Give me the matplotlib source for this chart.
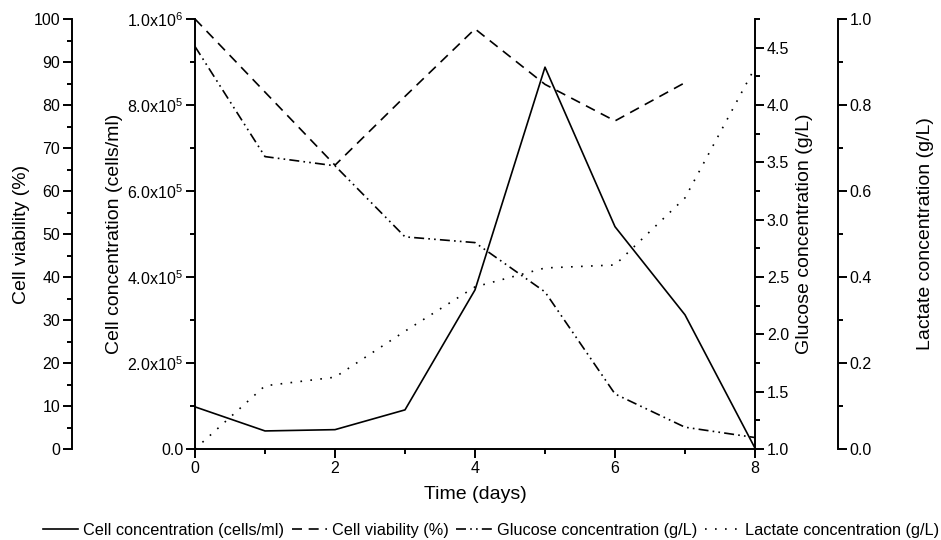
import matplotlib
matplotlib.use("Agg")
import matplotlib.pyplot as plt
from matplotlib.ticker import MultipleLocator, FixedLocator, FixedFormatter, FormatStrFormatter
from matplotlib.lines import Line2D

plt.rcParams['font.family'] = ['Liberation Sans', 'DejaVu Sans']
plt.rcParams['mathtext.fontset'] = 'custom'
plt.rcParams['mathtext.rm'] = 'Liberation Sans'
plt.rcParams['mathtext.it'] = 'Liberation Sans'

# data
days = [0, 1, 2, 3, 4, 5, 6, 7, 8]
cell_conc = [9.8e4, 4.2e4, 4.5e4, 9.1e4, 3.7e5, 8.88e5, 5.17e5, 3.12e5, 2e3]
via_days = [0, 1, 2, 3, 4, 5, 6, 7]
viability = [100, 83, 66, 82, 97.7, 84.8, 76.3, 85.2]
glucose = [4.51, 3.55, 3.47, 2.85, 2.80, 2.37, 1.48, 1.19, 1.10]
lactate = [0.0, 0.147, 0.167, 0.274, 0.377, 0.421, 0.428, 0.584, 0.887]

conc_ticks = [0, 2e5, 4e5, 6e5, 8e5, 1e6]
conc_labels = ['0.0', r'2.0x10$^{5}$', r'4.0x10$^{5}$', r'6.0x10$^{5}$',
               r'8.0x10$^{5}$', r'1.0x10$^{6}$']

names = ['Cell concentration (cells/ml)', 'Cell viability (%)',
         'Glucose concentration (g/L)', 'Lactate concentration (g/L)']

LW = 1.2
SPW = 1.4
TICKFS = 11.5
LABFS = 14

fig = plt.figure(figsize=(9.41, 5.40), dpi=100)
W, H = 941, 540
x0, x1, y0, y1 = 195, 755, 19, 449
ax = fig.add_axes([x0 / W, 1 - y1 / H, (x1 - x0) / W, (y1 - y0) / H])
aw = x1 - x0
ah = y1 - y0

def style_ticks(a, axis='y'):
    a.tick_params(axis=axis, which='major', direction='out', length=6.5, width=SPW, labelsize=TICKFS, pad=2)
    a.tick_params(axis=axis, which='minor', direction='out', length=3.5, width=SPW)

# host: cell concentration
ax.plot(days, cell_conc, color='black', lw=LW, linestyle='-')
ax.set_xlim(0, 8)
ax.set_ylim(0, 1e6)
ax.xaxis.set_major_locator(MultipleLocator(2))
ax.xaxis.set_minor_locator(MultipleLocator(1))
ax.yaxis.set_major_locator(FixedLocator(conc_ticks))
ax.yaxis.set_major_formatter(FixedFormatter(conc_labels))
ax.yaxis.set_minor_locator(MultipleLocator(1e5))
for s in ['top', 'right']:
    ax.spines[s].set_visible(False)
for s in ['left', 'bottom']:
    ax.spines[s].set_linewidth(SPW)
style_ticks(ax, 'both')
ax.set_xlabel('Time (days)', fontsize=LABFS)
ax.xaxis.set_label_coords(0.5, -(486 - y1) / ah)
ax.set_ylabel('Cell concentration (cells/ml)', fontsize=LABFS)
ax.yaxis.set_label_coords(-(x0 - 123) / aw, 0.5)

# viability axis (outer left)
axv = ax.twinx()
axv.plot(via_days, viability, color='black', lw=LW, linestyle=(0, (6, 4)))
axv.set_ylim(0, 100)
axv.yaxis.tick_left()
axv.yaxis.set_label_position('left')
axv.yaxis.set_major_locator(MultipleLocator(10))
axv.yaxis.set_minor_locator(MultipleLocator(5))
for s in ['top', 'right', 'bottom']:
    axv.spines[s].set_visible(False)
axv.spines['left'].set_position(('axes', -(x0 - 72) / aw))
axv.spines['left'].set_linewidth(SPW)
style_ticks(axv)
axv.set_ylabel('Cell viability (%)', fontsize=LABFS)
axv.yaxis.set_label_coords(-(x0 - 30) / aw, 0.5)

# glucose axis (right)
axg = ax.twinx()
axg.plot(days, glucose, color='black', lw=LW, linestyle=(0, (6, 2.5, 1, 2.5, 1, 2.5)))
axg.set_ylim(1.0, 4.75)
axg.yaxis.set_major_locator(MultipleLocator(0.5))
axg.yaxis.set_minor_locator(MultipleLocator(0.25))
axg.yaxis.set_major_formatter(FormatStrFormatter('%.1f'))
for s in ['top', 'left', 'bottom']:
    axg.spines[s].set_visible(False)
axg.spines['right'].set_linewidth(SPW)
style_ticks(axg)
axg.set_ylabel('Glucose concentration (g/L)', fontsize=LABFS)
axg.yaxis.set_label_coords((796 - x0) / aw, 0.5)

# lactate axis (outer right)
axl = ax.twinx()
axl.plot(days, lactate, color='black', lw=LW, linestyle=(0, (1, 5)))
axl.set_ylim(0, 1.0)
axl.yaxis.set_major_locator(MultipleLocator(0.2))
axl.yaxis.set_minor_locator(MultipleLocator(0.1))
axl.yaxis.set_major_formatter(FormatStrFormatter('%.1f'))
for s in ['top', 'left', 'bottom']:
    axl.spines[s].set_visible(False)
axl.spines['right'].set_position(('axes', (838 - x0) / aw))
axl.spines['right'].set_linewidth(SPW)
style_ticks(axl)
axl.set_ylabel('Lactate concentration (g/L)', fontsize=LABFS)
axl.yaxis.set_label_coords((917 - x0) / aw, 0.5)

handles = [
    Line2D([], [], color='black', lw=LW, linestyle='-'),
    Line2D([], [], color='black', lw=LW, linestyle=(0, (6, 4))),
    Line2D([], [], color='black', lw=LW, linestyle=(0, (6, 2.5, 1, 2.5, 1, 2.5))),
    Line2D([], [], color='black', lw=LW, linestyle=(0, (1, 5))),
]
fig.legend(handles, names, loc='center', bbox_to_anchor=(491 / W, 1 - 530 / H), ncol=4,
           frameon=False, fontsize=11.7, handlelength=2.2, handletextpad=0.3,
           columnspacing=0.45, borderpad=0)

fig.savefig('out.png', dpi=100)
